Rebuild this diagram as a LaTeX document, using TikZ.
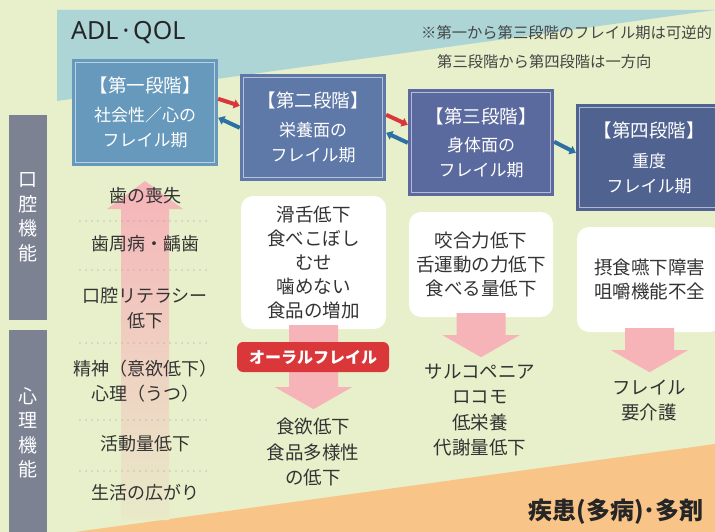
\documentclass[tikz,border=0pt]{standalone}
\usepackage{fontspec}
\setmainfont{Noto Sans CJK JP}
\newfontfamily\latinfont{Noto Sans}
\usetikzlibrary{arrows.meta,calc}
\definecolor{bg}{HTML}{E7F0CA}
\definecolor{tealband}{HTML}{ADD5D6}
\definecolor{orangeband}{HTML}{F9C488}
\definecolor{barc}{HTML}{7C8292}
\definecolor{stA}{HTML}{6699BC}
\definecolor{stB}{HTML}{5E78A8}
\definecolor{stC}{HTML}{5A699E}
\definecolor{stD}{HTML}{4F6290}
\definecolor{pinkA}{HTML}{F6B4B9}
\definecolor{redA}{HTML}{D9373A}
\definecolor{blueA}{HTML}{2C70A5}
\definecolor{textc}{HTML}{333333}
\definecolor{notec}{HTML}{444444}
\newcommand\pinkdown[2]{%
  \fill[pinkA] ($(#1.south)+(-24.5,-4)$) -- ++(49,0) -- ++(0,#2+4) -- ++(14,0)
    -- ++(-38.5,22) -- ++(-38.5,-22) -- ++(14,0) -- cycle;}
\tikzset{
  sidebar/.style={fill=barc, minimum width=38, inner sep=0, text=white, align=center,
    font=\fontsize{19}{24.5}\selectfont},
  stagebox/.style={minimum width=146, minimum height=107, inner sep=0, text=white,
    align=center, font=\fontsize{17}{25}\selectfont},
  wbox/.style={fill=white, rounded corners=12pt, minimum width=145, inner sep=0,
    text=textc, align=center, font=\fontsize{18.5}{24}\selectfont},
  coltext/.style={text=textc, align=center, inner sep=0, font=\fontsize{18}{25}\selectfont},
  undertext/.style={text=textc, align=center, inner sep=0, font=\fontsize{18.5}{25.5}\selectfont},
  dotline/.style={draw=gray!80, line width=1.1pt, line cap=round, dash pattern=on 0pt off 6pt},
  redlink/.style={draw=redA, line width=4pt, -{Triangle[length=6pt,width=9pt]}},
  bluelink/.style={draw=blueA, line width=4pt, -{Triangle[length=6pt,width=9pt]}},
  innerframe/.style={draw=white, draw opacity=0.55, line width=0.8pt},
  notetext/.style={text=notec, inner sep=0, anchor=west, font=\fontsize{15.3}{18}\selectfont},
}
\begin{document}
\begin{tikzpicture}[x=1pt,y=-1pt]
\useasboundingbox (0,0) rectangle (715,532);
\clip (0,0) rectangle (715,532);
\fill[bg] (0,0) rectangle (715,532);
\fill[tealband] (57,10) -- (715,10) -- (57,101) -- cycle;
\fill[orangeband] (75,532) -- (715,444) -- (715,532) -- cycle;

% titles
\node[text=black!85, inner sep=0, anchor=west, font=\fontsize{25}{28}\selectfont\latinfont] (adl) at (71,33) {ADL\hspace{4pt}·\hspace{4pt}QOL};
\node[notetext] (note1) at (421,33) {※第一から第三段階のフレイル期は可逆的};
\node[notetext] (note2) at (437,62) {第三段階から第四段階は一方向};
\node[text=black!85, inner sep=0, anchor=east, font=\fontsize{24}{26}\selectfont\bfseries] (dis) at (704,512) {疾患(多病)･多剤};

% side bars
\node[sidebar, minimum height=205] (oral) at (28,217.5) {口\\腔\\機\\能};
\node[sidebar, minimum height=206] (psych) at (28,433) {心\\理\\機\\能};

% pink up arrow
\shade[top color=pinkA, middle color=pinkA!80!bg, bottom color=bg!90!pinkA]
  (145,181) -- (183,209) -- (169,209) -- (169,520) -- (121,520) -- (121,209) -- (107,209) -- cycle;

% left column texts
\node[coltext] (l1) at (145,196) {歯の喪失};
\node[coltext] (l2) at (145,244) {歯周病・齲歯};
\node[coltext] (l3) at (145,308.5) {口腔リテラシー\\低下};
\node[coltext] (l4) at (145,381.5) {精神（意欲低下）\\心理（うつ）};
\node[coltext] (l5) at (145,444) {活動量低下};
\node[coltext] (l6) at (145,493) {生活の広がり};
\foreach \yy in {221,270,343,420,471}
  \draw[dotline] (80,\yy) -- (208,\yy);

% white boxes and pink arrows
\node[wbox, minimum height=133] (bA) at (313.5,262.5) {滑舌低下\\食べこぼし\\むせ\\噛めない\\食品の増加};
\node[wbox, minimum height=105, minimum width=144] (bB) at (481,264.5) {咬合力低下\\舌運動の力低下\\食べる量低下};
\node[wbox, minimum height=105] (bC) at (649.5,279.5) {摂食嚥下障害\\咀嚼機能不全};
\pinkdown{bA}{58}
\pinkdown{bB}{18}
\pinkdown{bC}{18}
\node[fill=redA, rounded corners=6pt, minimum width=152, minimum height=30, inner sep=0,
  text=white, font=\fontsize{16}{18}\selectfont\bfseries] (oralfrail) at (313,357) {オーラルフレイル};

\node[undertext] (tA) at (313,452) {食欲低下\\食品多様性\\の低下};
\node[undertext] (tB) at (480,410) {サルコペニア\\ロコモ\\低栄養\\代謝量低下};
\node[undertext] (tC) at (649,400.5) {フレイル\\要介護};

% stage boxes
\node[stagebox, fill=stA] (s1) at (145,112.5) {{\fontsize{18.5}{25}\selectfont【第一段階】}\\[4pt]社会性／心の\\フレイル期};
\node[stagebox, fill=stB] (s2) at (313,127.5) {{\fontsize{18.5}{25}\selectfont【第二段階】}\\[4pt]栄養面の\\フレイル期};
\node[stagebox, fill=stC] (s3) at (481,142.5) {{\fontsize{18.5}{25}\selectfont【第三段階】}\\[3pt]身体面の\\フレイル期};
\node[stagebox, fill=stD] (s4) at (649,157.5) {{\fontsize{18.5}{25}\selectfont【第四段階】}\\[5pt]重度\\フレイル期};
\foreach \n in {s1,s2,s3,s4}
  \draw[innerframe] ($(\n.north west)+(3.5,3.5)$) rectangle ($(\n.south east)+(-3.5,-3.5)$);

% stage links
\draw[redlink] ($(s1.north east)+(0,40)$) -- ($(s2.north west)+(0,32)$);
\draw[bluelink] ($(s2.north west)+(0,54)$) -- ($(s1.north east)+(0,59)$);
\draw[redlink] ($(s2.north east)+(0,41)$) -- ($(s3.north west)+(0,36)$);
\draw[bluelink] ($(s3.north west)+(0,54)$) -- ($(s2.north east)+(0,59)$);
\draw[bluelink] ($(s3.north east)+(0,53)$) -- ($(s4.north west)+(0,49)$);
\end{tikzpicture}
\end{document}
